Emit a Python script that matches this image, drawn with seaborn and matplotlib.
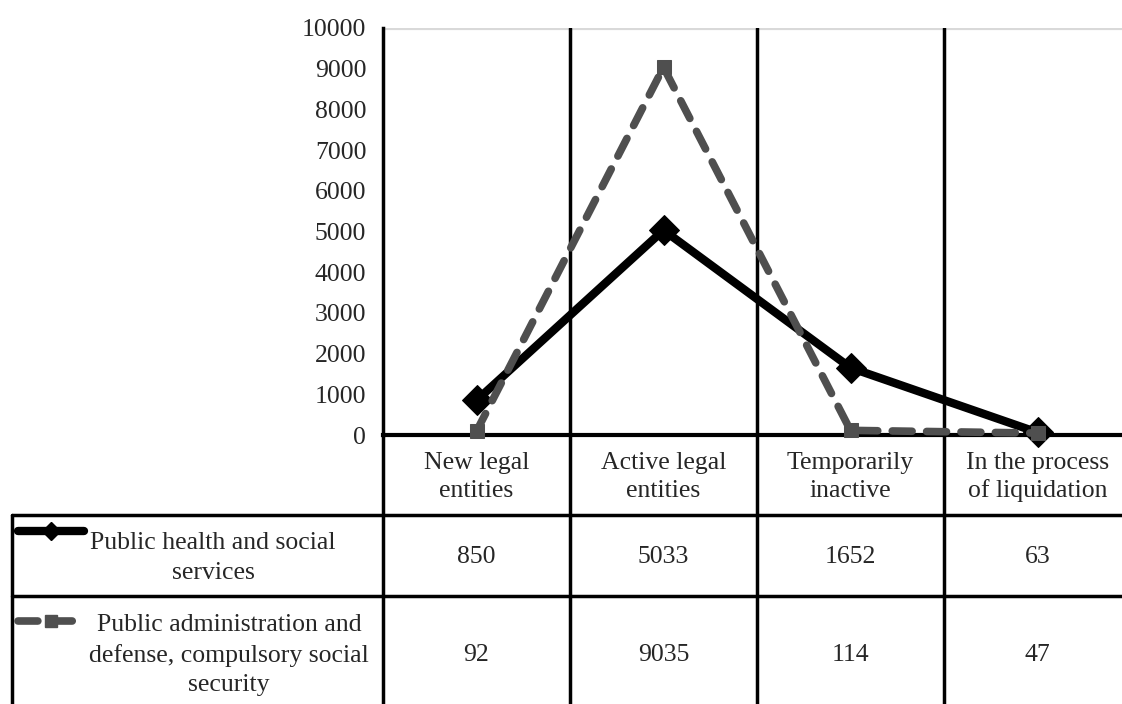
import numpy as np
import pandas as pd
import matplotlib.pyplot as plt
import seaborn as sns
from matplotlib.lines import Line2D

# data
categories = ["New legal\nentities", "Active legal\nentities", "Temporarily\ninactive", "In the process\nof liquidation"]
health_name = "Public health and social\nservices"
admin_name = "Public administration and\ndefense, compulsory social\nsecurity"
health = [850, 5033, 1652, 63]
admin = [92, 9035, 114, 47]
yticks = [0, 1000, 2000, 3000, 4000, 5000, 6000, 7000, 8000, 9000, 10000]

df = pd.DataFrame({"Category": categories, "health": health, "admin": admin})

sns.set_style("white")
plt.rcParams['font.family'] = ['Liberation Serif', 'DejaVu Serif']

W, H = 1122, 704
FS = 18.5
fig = plt.figure(figsize=(W / 100, H / 100), dpi=100)

def px(x0, y0, x1, y1):
    # pixel box -> figure fraction
    return [x0 / W, 1 - y1 / H, (x1 - x0) / W, (y1 - y0) / H]

grey = "#4f4f4f"
ax = fig.add_axes(px(383, 28, 383 + 4 * 187, 435))

sns.lineplot(data=df, x="Category", y="health", ax=ax, sort=False, color="black",
             linewidth=6, marker="D", markersize=15, markeredgecolor="black",
             clip_on=False, zorder=3)
sns.lineplot(data=df, x="Category", y="admin", ax=ax, sort=False, color=grey,
             linewidth=5.5, linestyle=(0, (2.6, 1.9)), dash_capstyle="round",
             marker="s", markersize=10, markeredgecolor=grey,
             clip_on=False, zorder=4)

ax.set_xlim(-0.5, 3.5)
ax.set_ylim(0, 10000)
ax.set_yticks(yticks)
ax.set_yticklabels([str(t) for t in yticks], fontsize=FS)
ax.set_xticks([])
ax.set_xlabel("")
ax.set_ylabel("")
ax.tick_params(axis="y", direction="out", length=8, width=2.5, color="black", pad=4)
for s in ["top", "right"]:
    ax.spines[s].set_visible(False)
ax.spines["left"].set_linewidth(2.5)
ax.spines["left"].set_color("black")
ax.spines["bottom"].set_linewidth(3)
ax.spines["bottom"].set_color("black")
ax.axhline(10000, color="#d9d9d9", lw=3, zorder=1)
for b in [0.5, 1.5, 2.5]:
    ax.axvline(b, color="black", lw=2.5, zorder=1)

# table under the chart, drawn in pixel coordinates
tb = fig.add_axes([0, 0, 1, 1], zorder=-1)
tb.set_xlim(0, W)
tb.set_ylim(H, 0)
tb.axis("off")

col_x = [383, 570, 757, 944]
for x in col_x:
    tb.plot([x, x], [435, H], color="black", lw=2.5)
tb.plot([12, 12], [515, H], color="black", lw=2.5)
for y in [515, 596]:
    tb.plot([12, W], [y, y], color="black", lw=2.5)

centers = [c + 93.5 for c in col_x]
for cx, lab in zip(centers, categories):
    tb.text(cx, 477, lab, ha="center", va="center", fontsize=FS, linespacing=1.3)
for cx, v in zip(centers, health):
    tb.text(cx, 557, str(v), ha="center", va="center", fontsize=FS)
for cx, v in zip(centers, admin):
    tb.text(cx, 655, str(v), ha="center", va="center", fontsize=FS)

tb.text(213, 558, health_name, ha="center", va="center", fontsize=FS, linespacing=1.45)
tb.text(229, 655, admin_name, ha="center", va="center", fontsize=FS, linespacing=1.45)

# legend keys in the row headers
tb.add_line(Line2D([18, 51, 84], [531, 531, 531], color="black", lw=6, marker="D",
                   markersize=9, markevery=[1], solid_capstyle="round"))
tb.add_line(Line2D([18, 51, 84], [621, 621, 621], color=grey, lw=5.5,
                   linestyle=(0, (2.6, 1.9)), dash_capstyle="round",
                   marker="s", markersize=9, markevery=[1]))

fig.savefig("out.png", dpi=100)
